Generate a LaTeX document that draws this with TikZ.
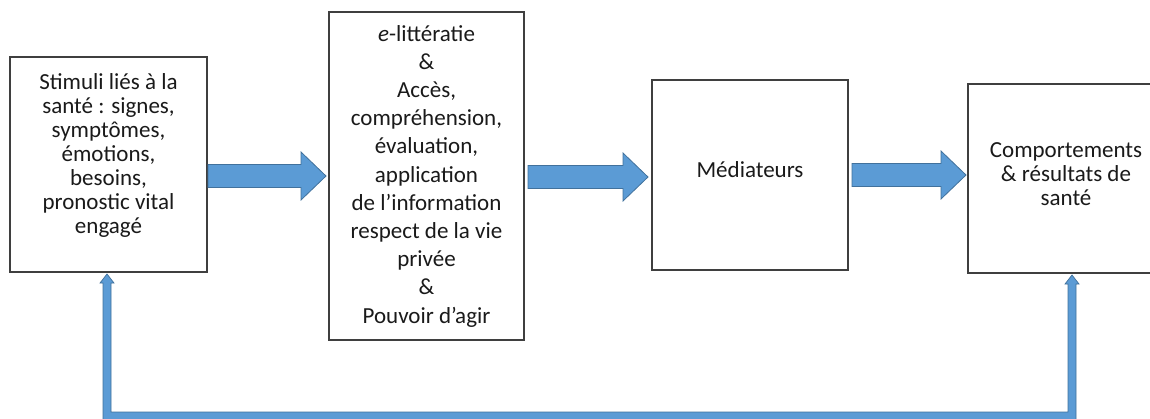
\documentclass[tikz,border=0pt]{standalone}
\usepackage{fontspec}
\setmainfont{Carlito}
\usetikzlibrary{shadows}
\definecolor{arrfill}{HTML}{5B9BD5}
\definecolor{arrline}{HTML}{41719C}
\definecolor{boxline}{HTML}{3F3F3F}
\definecolor{txt}{HTML}{1A1A1A}
\tikzset{
  boxnode/.style={draw=boxline, line width=1.1pt, fill=white, rectangle, inner sep=0pt,
    general shadow={fill=black!30, shadow xshift=1.3pt, shadow yshift=-1.3pt}},
  txtnode/.style={align=center, text=txt, inner sep=0pt},
  blockarrow/.style={fill=arrfill, draw=arrline, line width=0.8pt, line join=miter}
}
\newcommand\myblockarr[3]{%
  \filldraw[blockarrow] (#1,{#3-11.5}) -- ({#2-25},{#3-11.5}) -- ({#2-25},{#3-24}) -- (#2,#3)
    -- ({#2-25},{#3+24}) -- ({#2-25},{#3+11.5}) -- (#1,{#3+11.5}) -- cycle;}
\begin{document}
\begin{tikzpicture}[x=1pt,y=-1pt]
\useasboundingbox (0,0) rectangle (1150,418);
% boxes
\node[boxnode, minimum width=197pt, minimum height=215pt] (b1) at (108.5,164.5) {};
\node[boxnode, minimum width=195pt, minimum height=328pt] (b2) at (426.5,176) {};
\node[boxnode, minimum width=196pt, minimum height=190pt] (b3) at (750,175) {};
\node[boxnode, minimum width=197pt, minimum height=189pt] (b4) at (1066.5,178.5) {};
% texts
\node[txtnode, font=\fontsize{23}{24}\selectfont] (t1) at (b1.center |- 0,155)
  {Stimuli liés à la\\santé : signes,\\symptômes,\\émotions,\\besoins,\\pronostic vital\\engagé};
\node[txtnode, font=\fontsize{23}{28.2}\selectfont] (t2) at (b2.center)
  {\textit{e}-littératie\\\&\\Accès,\\compréhension,\\évaluation,\\application\\de l’information\\respect de la vie\\privée\\\&\\Pouvoir d’agir};
\node[txtnode, font=\fontsize{23}{24}\selectfont] (t3) at (750,170) {Médiateurs};
\node[txtnode, font=\fontsize{23}{24}\selectfont] (t4) at (1066,174)
  {Comportements\\\& résultats de\\santé};
% block arrows
\myblockarr{208}{326}{176}
\myblockarr{528}{648}{177}
\myblockarr{852}{966}{175}
% feedback arrow
\filldraw[blockarrow, line width=0.7pt] (103,421) -- (103,283) -- (100,283) -- (107,274) -- (114,283) -- (111,283)
  -- (111,412) -- (1068,412) -- (1068,284) -- (1065,284) -- (1072,275) -- (1079,284) -- (1076,284)
  -- (1076,421) -- cycle;
\end{tikzpicture}
\end{document}
